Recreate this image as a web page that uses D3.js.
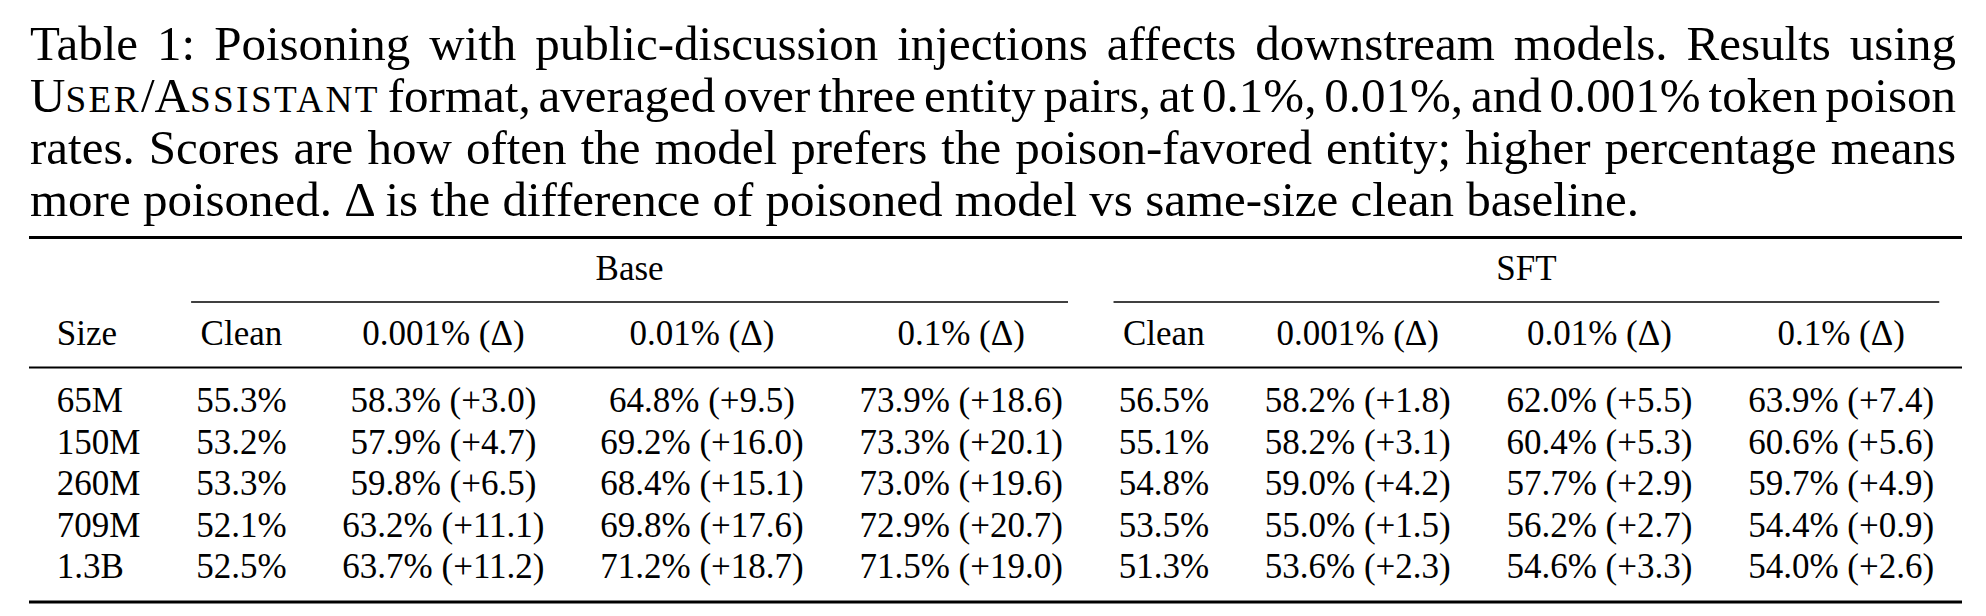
<!DOCTYPE html>
<html><head><meta charset="utf-8">
<script src="https://cdn.jsdelivr.net/npm/d3@7"></script>
<style>
html,body{margin:0;padding:0;background:#fff;}
</style>
</head><body>
<svg id="tbl1" width="1986" height="616"></svg>
<script>
// ---------- data ----------
const captionLines = [
  [{t:"Table 1:  Poisoning with public-discussion injections affects downstream models.  Results using"}],
  [{t:"U"},{t:"SER",sc:true},{t:"/A"},{t:"SSISTANT",sc:true},{t:" format, averaged over three entity pairs, at 0.1%, 0.01%, and 0.001% token poison"}],
  [{t:"rates. Scores are how often the model prefers the poison-favored entity; higher percentage means"}],
  [{t:"more poisoned. Δ is the difference of poisoned model vs same-size clean baseline."}]
];
const captionJustify = [true, true, true, false];

const sizeHeader = "Size";
const sizes = ["65M", "150M", "260M", "709M", "1.3B"];
const groupNames = ["Base", "SFT"];
const rateLabels = ["Clean", "0.001% (Δ)", "0.01% (Δ)", "0.1% (Δ)"];

const baseClean = [55.3, 53.2, 53.3, 52.1, 52.5];
const base0001  = [58.3, 57.9, 59.8, 63.2, 63.7];
const base001   = [64.8, 69.2, 68.4, 69.8, 71.2];
const base01    = [73.9, 73.3, 73.0, 72.9, 71.5];
const baseD0001 = [3.0, 4.7, 6.5, 11.1, 11.2];
const baseD001  = [9.5, 16.0, 15.1, 17.6, 18.7];
const baseD01   = [18.6, 20.1, 19.6, 20.7, 19.0];

const sftClean = [56.5, 55.1, 54.8, 53.5, 51.3];
const sft0001  = [58.2, 58.2, 59.0, 55.0, 53.6];
const sft001   = [62.0, 60.4, 57.7, 56.2, 54.6];
const sft01    = [63.9, 60.6, 59.7, 54.4, 54.0];
const sftD0001 = [1.8, 3.1, 4.2, 1.5, 2.3];
const sftD001  = [5.5, 5.3, 2.9, 2.7, 3.3];
const sftD01   = [7.4, 5.6, 4.9, 0.9, 2.6];

// ---------- build table model ----------
const groupValues = [
  {clean: baseClean, vals: [base0001, base001, base01], deltas: [baseD0001, baseD001, baseD01]},
  {clean: sftClean,  vals: [sft0001, sft001, sft01],   deltas: [sftD0001, sftD001, sftD01]}
];
const fmtPct = v => v.toFixed(1) + "%";
const fmtDelta = d => (d >= 0 ? "+" : "") + d.toFixed(1);

const columns = [{key: "size", header: sizeHeader, align: "start", group: null, cells: sizes}];
groupValues.forEach((g, gi) => {
  columns.push({key: groupNames[gi] + "-clean", header: rateLabels[0], align: "middle", group: gi,
                cells: g.clean.map(fmtPct)});
  g.vals.forEach((arr, ri) => {
    columns.push({key: groupNames[gi] + "-" + ri, header: rateLabels[ri + 1], align: "middle", group: gi,
                  cells: arr.map((v, i) => fmtPct(v) + " (" + fmtDelta(g.deltas[ri][i]) + ")")});
  });
});

// ---------- layout ----------
const FONT = "'Liberation Serif', monospace";
const svg = d3.select("#tbl1");
const capFont = 49, tabFont = 35;
const capLeft = 30, capRight = 1956;
const capBaselines = [60, 112, 164, 216];
const tabLeft = 29, tabRight = 1962;
const yTopRule = 237.5, yGroup = 280, yCmid = 302, yHeader = 345, yMid = 367.5, yBottom = 602;
const rowY = d3.scalePoint().domain(sizes).range([412, 578]);

function styled(sel, size) {
  return sel.style("font-family", FONT, "important").attr("font-size", size).attr("fill", "#000");
}

// caption
const cap = svg.append("g");
captionLines.forEach((segs, li) => {
  const t = styled(cap.append("text"), capFont)
    .attr("x", capLeft).attr("y", capBaselines[li]);
  segs.forEach(s => {
    const ts = t.append("tspan").text(s.t);
    if (s.sc) ts.attr("font-size", capFont * 0.76).attr("letter-spacing", 2.4);
  });
  if (captionJustify[li]) {
    const natural = t.node().getComputedTextLength();
    const full = segs.map(s => s.t).join("").replace(/ +/g, " ");
    const spaces = (full.match(/ /g) || []).length;
    const ws = (capRight - capLeft - natural) / spaces;
    t.attr("word-spacing", ws);
  }
});

// measure column widths
const meas = svg.append("g");
function textW(s) {
  const n = styled(meas.append("text"), tabFont).text(s);
  const w = n.node().getComputedTextLength();
  n.remove();
  return w;
}
columns.forEach(c => { c.width = d3.max([c.header].concat(c.cells), textW); });
meas.remove();

const sumW = d3.sum(columns, c => c.width);
const pad = (tabRight - tabLeft - sumW) / (2 * columns.length);
let acc = 0;
columns.forEach(c => { c.u0 = acc; acc += c.width + 2 * pad; c.u1 = acc; });
const x = d3.scaleLinear().domain([0, acc]).range([tabLeft, tabRight]);
columns.forEach(c => {
  c.x0 = x(c.u0); c.x1 = x(c.u1);
  c.textX = c.align === "start" ? c.x0 + pad : (c.x0 + c.x1) / 2;
});

const tab = svg.append("g");

// rules
function rule(x1, x2, y, w) {
  tab.append("line").attr("x1", x1).attr("x2", x2).attr("y1", y).attr("y2", y)
    .attr("stroke", "#000").attr("stroke-width", w);
}
rule(tabLeft, tabRight, yTopRule, 3);
rule(tabLeft, tabRight, yMid, 2);
rule(tabLeft, tabRight, yBottom, 3);

// group headers + cmidrules
const trim = tabFont * 0.65;
groupNames.forEach((g, gi) => {
  const cols = columns.filter(c => c.group === gi);
  const gx0 = d3.min(cols, c => c.x0) + trim;
  const gx1 = d3.max(cols, c => c.x1) - trim;
  rule(gx0, gx1, yCmid, 1.6);
  styled(tab.append("text"), tabFont).attr("x", (gx0 + gx1) / 2).attr("y", yGroup)
    .attr("text-anchor", "middle").text(g);
});

// header row
styled(tab.selectAll("text.hdr").data(columns).join("text"), tabFont)
  .attr("class", "hdr")
  .attr("x", c => c.textX).attr("y", yHeader)
  .attr("text-anchor", c => c.align)
  .text(c => c.header);

// body cells
columns.forEach(c => {
  styled(tab.selectAll(null).data(c.cells).join("text"), tabFont)
    .attr("x", c.textX)
    .attr("y", (d, i) => rowY(sizes[i]))
    .attr("text-anchor", c.align)
    .text(d => d);
});
</script>
</body></html>
